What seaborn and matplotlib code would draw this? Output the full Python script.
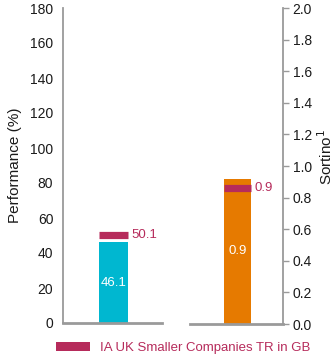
import matplotlib
matplotlib.use("Agg")
import matplotlib.pyplot as plt
import seaborn as sns
import pandas as pd
from matplotlib.patches import Patch

sns.set_theme(style="white")
plt.rcParams["font.family"] = ["Liberation Sans", "DejaVu Sans"]

# Fund performance vs. sector benchmark
perf_category = ["Performance"]
perf_fund = [46.1]
perf_benchmark = [50.1]

# Sortino ratio vs. sector benchmark
sortino_category = ["Sortino"]
sortino_fund = [0.92]
sortino_benchmark = [0.86]

benchmark_name = "IA UK Smaller Companies TR in GB"

perf_ticks = [0, 20, 40, 60, 80, 100, 120, 140, 160, 180]
sortino_ticks = [0.0, 0.2, 0.4, 0.6, 0.8, 1.0, 1.2, 1.4, 1.6, 1.8, 2.0]

CYAN = "#00B7D0"
ORANGE = "#E67A00"
CRIMSON = "#B62B5B"
GREY = "#9A9A9A"
TXT = "#1a1a1a"

W, H = 335, 361
fig = plt.figure(figsize=(W / 100, H / 100), dpi=100)

def frac(x0, x1, y_top, y_bot):
    return [x0 / W, 1 - y_bot / H, (x1 - x0) / W, (y_bot - y_top) / H]

ax1 = fig.add_axes(frac(63, 162, 8, 323))
ax2 = fig.add_axes(frac(190, 283, 8, 324))

bar_w = 0.29

df1 = pd.DataFrame({"cat": perf_category, "val": perf_fund})
sns.barplot(data=df1, x="cat", y="val", color=CYAN, width=bar_w, ax=ax1,
            saturation=1, edgecolor="none")
df2 = pd.DataFrame({"cat": sortino_category, "val": sortino_fund})
sns.barplot(data=df2, x="cat", y="val", color=ORANGE, width=bar_w, ax=ax2,
            saturation=1, edgecolor="none")

for ax, vals, bench, fmt, lim, ticks in [
    (ax1, perf_fund, perf_benchmark, "{:.1f}", 180, perf_ticks),
    (ax2, sortino_fund, sortino_benchmark, "{:.1f}", 2.0, sortino_ticks),
]:
    ax.set_xlim(-0.51, 0.49)
    ax.set_ylim(0, lim)
    ax.set_yticks(ticks)
    ax.set_xticks([])
    ax.set_xlabel("")
    for i, (v, b) in enumerate(zip(vals, bench)):
        ax.text(i, v / 2, fmt.format(v), color="white", ha="center",
                va="center", fontsize=9.5)
        ax.hlines(b, i - bar_w / 2, i + bar_w / 2, color=CRIMSON, lw=5.2)
        ax.text(i + bar_w / 2 + 0.04, b, fmt.format(b), color=CRIMSON,
                ha="left", va="center", fontsize=9.5)
    for s in ax.spines.values():
        s.set_color(GREY)
    ax.spines["top"].set_visible(False)
    ax.tick_params(axis="y", length=4, color=GREY, width=1, labelsize=10,
                   labelcolor=TXT, pad=3)

ax1.spines["right"].set_visible(False)
ax1.spines["left"].set_linewidth(1.3)
ax1.spines["bottom"].set_linewidth(2)
ax1.set_ylabel("Performance (%)", fontsize=11, color=TXT)
ax1.yaxis.label.set_verticalalignment("center")
ax1.yaxis.set_label_coords((15 - 63) / 99, 0.5)

ax2.spines["left"].set_visible(False)
ax2.spines["right"].set_linewidth(1.3)
ax2.spines["bottom"].set_linewidth(2)
ax2.yaxis.tick_right()
ax2.yaxis.set_label_position("right")
ax2.set_yticklabels([f"{t:.1f}" for t in sortino_ticks])
ax2.set_ylabel("Sortino$^{1}$", fontsize=11, color=TXT)
ax2.yaxis.label.set_verticalalignment("center")
ax2.yaxis.set_label_coords((325.5 - 190) / 93, 0.53)

handle = Patch(facecolor=CRIMSON, edgecolor="none")
leg = fig.legend([handle], [benchmark_name], loc="center",
                 bbox_to_anchor=(183 / W, 1 - 348 / H), frameon=False,
                 fontsize=9.5, handlelength=2.6, handleheight=0.6,
                 handletextpad=0.7)
for t in leg.get_texts():
    t.set_color(CRIMSON)

fig.savefig("out.png", dpi=100)
